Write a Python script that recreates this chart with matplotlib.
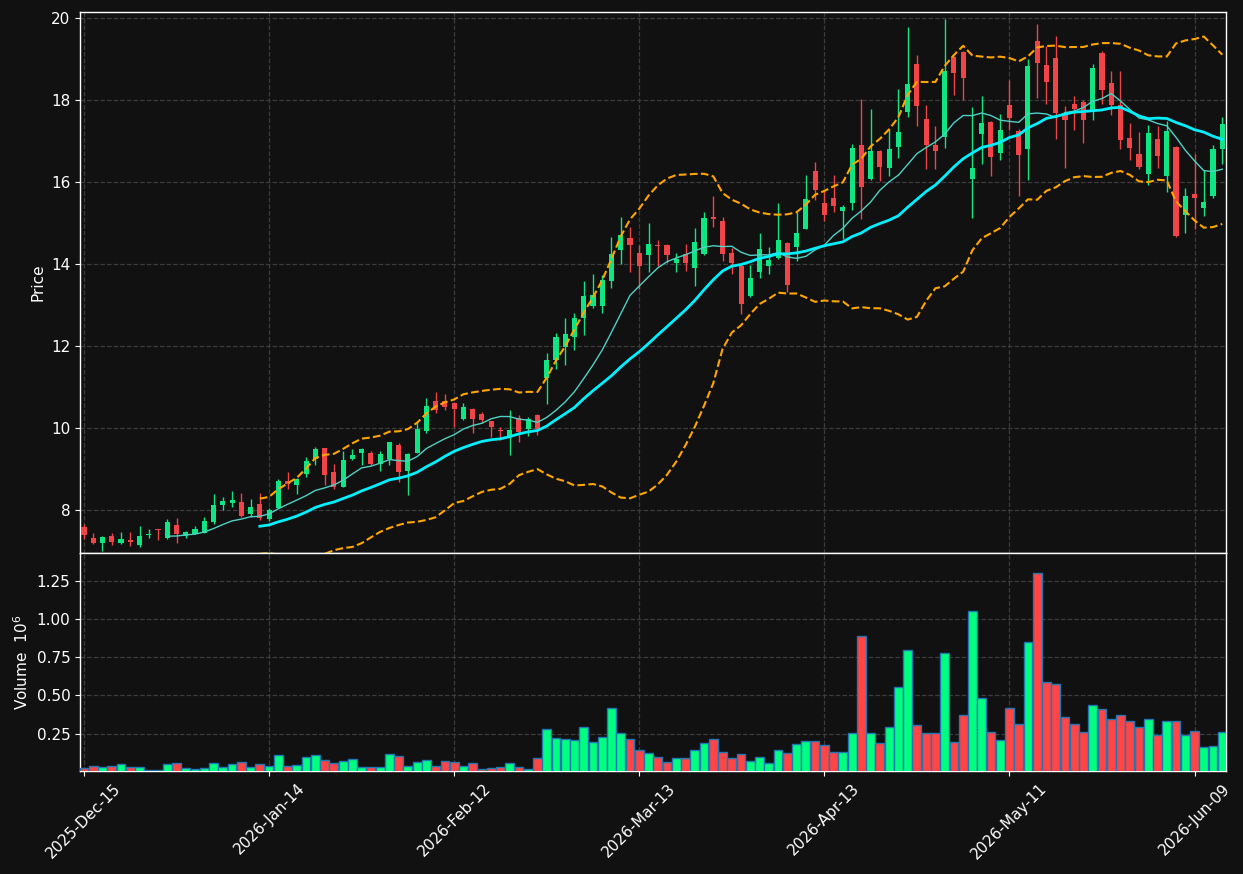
import numpy as np
import pandas as pd
import matplotlib
matplotlib.use('Agg')
import matplotlib.pyplot as plt

opens = [7.58, 7.32, 7.20, 7.37, 7.19, 7.27, 7.14, 7.38, 7.52, 7.31,
         7.63, 7.37, 7.42, 7.45, 7.71, 8.12, 8.18, 8.20, 7.89, 8.15,
         7.79, 8.06, 8.71, 8.61, 8.88, 9.25, 9.51, 8.93, 8.57, 9.24,
         9.40, 9.39, 9.12, 9.24, 9.59, 8.96, 9.40, 9.93, 10.65, 10.65,
         10.61, 10.22, 10.46, 10.34, 10.17, 9.94, 9.79, 10.25, 9.97, 10.31,
         11.23, 11.66, 11.98, 12.23, 12.69, 12.98, 12.98, 13.59, 14.34, 14.63,
         14.27, 14.22, 14.46, 14.46, 14.03, 14.24, 13.91, 14.25, 15.15, 15.05,
         14.27, 13.96, 13.23, 13.81, 13.96, 14.15, 14.51, 14.42, 14.86, 16.27,
         15.48, 15.61, 15.30, 15.50, 16.90, 16.08, 16.76, 16.34, 16.85, 17.71,
         18.89, 17.54, 16.90, 17.10, 19.05, 19.17, 16.08, 17.18, 17.46, 16.71,
         17.87, 17.24, 16.81, 19.44, 18.86, 19.02, 17.64, 17.91, 17.95, 17.75,
         19.15, 18.41, 17.87, 17.07, 16.68, 16.20, 17.05, 16.16, 16.85, 15.19,
         15.72, 15.37, 15.65, 16.81]
highs = [7.66, 7.44, 7.37, 7.43, 7.47, 7.47, 7.61, 7.54, 7.54, 7.77,
         7.80, 7.49, 7.60, 7.82, 8.38, 8.31, 8.46, 8.41, 8.26, 8.41,
         8.05, 8.76, 8.93, 8.77, 9.30, 9.53, 9.52, 9.11, 9.44, 9.48,
         9.50, 9.45, 9.43, 9.67, 9.64, 9.38, 10.15, 10.72, 10.87, 10.82,
         10.63, 10.61, 10.48, 10.38, 10.18, 10.02, 10.44, 10.32, 10.26, 10.35,
         11.82, 12.31, 12.68, 12.80, 13.59, 13.75, 13.73, 14.65, 15.14, 14.90,
         14.46, 14.99, 14.58, 14.50, 14.26, 14.49, 14.87, 15.26, 15.67, 15.15,
         14.39, 14.00, 13.98, 14.75, 14.41, 15.48, 14.54, 15.28, 16.17, 16.50,
         15.80, 16.17, 15.44, 16.93, 18.02, 17.79, 16.78, 17.30, 18.26, 19.78,
         19.11, 17.87, 17.36, 19.98, 19.07, 19.20, 17.83, 18.09, 17.50, 17.67,
         18.48, 17.30, 19.01, 19.85, 19.33, 19.56, 17.85, 18.09, 18.01, 18.87,
         19.19, 18.72, 18.70, 17.44, 17.22, 17.40, 17.38, 17.50, 16.87, 15.85,
         16.69, 16.30, 16.91, 17.58]
lows = [7.28, 7.17, 7.00, 7.15, 7.18, 7.12, 7.10, 7.32, 7.26, 7.30,
        7.19, 7.32, 7.41, 7.44, 7.66, 8.00, 8.08, 7.82, 7.84, 7.76,
        7.74, 8.04, 8.52, 8.39, 8.80, 9.09, 8.60, 8.50, 8.55, 9.22,
        9.09, 9.10, 8.96, 9.10, 8.69, 8.36, 9.38, 9.87, 10.37, 10.44,
        10.03, 10.20, 9.87, 10.12, 9.79, 9.71, 9.34, 9.65, 9.80, 9.82,
        10.59, 11.43, 11.54, 11.90, 12.28, 12.92, 12.80, 13.41, 13.99, 13.80,
        13.39, 13.81, 13.95, 14.02, 13.81, 13.84, 13.47, 14.23, 14.91, 14.07,
        13.75, 12.77, 13.20, 13.65, 13.75, 14.13, 13.33, 14.07, 14.85, 15.56,
        15.04, 15.26, 14.61, 15.32, 15.10, 16.06, 16.02, 16.14, 16.59, 17.59,
        17.38, 16.31, 16.31, 16.84, 18.13, 18.01, 15.13, 16.45, 16.16, 16.53,
        17.26, 15.65, 16.04, 18.05, 17.91, 17.06, 16.35, 17.26, 16.96, 17.52,
        17.90, 17.63, 16.81, 16.53, 16.33, 15.94, 16.35, 15.77, 14.66, 14.76,
        14.86, 15.17, 15.62, 16.43]
closes = [7.38, 7.19, 7.35, 7.21, 7.28, 7.23, 7.36, 7.41, 7.50, 7.70,
          7.41, 7.46, 7.54, 7.73, 8.12, 8.22, 8.24, 7.85, 8.08, 7.80,
          8.00, 8.71, 8.63, 8.76, 9.20, 9.49, 8.86, 8.57, 9.22, 9.34,
          9.49, 9.12, 9.36, 9.65, 8.93, 9.36, 9.98, 10.54, 10.44, 10.52,
          10.46, 10.51, 10.22, 10.20, 10.02, 9.92, 9.95, 9.91, 10.21, 9.98,
          11.66, 12.23, 12.29, 12.69, 13.22, 13.24, 13.61, 14.24, 14.71, 14.46,
          13.95, 14.49, 14.44, 14.22, 14.12, 14.03, 14.54, 15.12, 15.10, 14.25,
          14.03, 13.03, 13.66, 14.37, 14.10, 14.59, 13.50, 14.76, 15.59, 15.81,
          15.20, 15.42, 15.38, 16.83, 15.89, 16.76, 16.37, 16.81, 17.22, 18.40,
          17.86, 16.91, 16.76, 18.72, 18.66, 18.54, 16.34, 17.44, 16.61, 17.27,
          17.57, 16.67, 18.83, 18.91, 18.44, 17.68, 17.52, 17.79, 17.52, 18.78,
          18.24, 17.89, 17.03, 16.84, 16.37, 17.20, 16.64, 17.24, 14.68, 15.66,
          15.62, 15.51, 16.81, 17.41]
volumes = [0.024, 0.037, 0.031, 0.037, 0.050, 0.031, 0.031, 0.013, 0.013, 0.050,
           0.059, 0.024, 0.018, 0.024, 0.059, 0.031, 0.050, 0.064, 0.031, 0.050,
           0.037, 0.110, 0.037, 0.043, 0.097, 0.110, 0.077, 0.059, 0.070, 0.083,
           0.031, 0.031, 0.031, 0.116, 0.103, 0.037, 0.064, 0.077, 0.037, 0.070,
           0.064, 0.037, 0.057, 0.018, 0.024, 0.031, 0.057, 0.031, 0.018, 0.090,
           0.281, 0.222, 0.215, 0.209, 0.294, 0.195, 0.228, 0.419, 0.255, 0.215,
           0.143, 0.123, 0.097, 0.064, 0.090, 0.090, 0.143, 0.189, 0.215, 0.130,
           0.090, 0.116, 0.070, 0.097, 0.057, 0.143, 0.123, 0.182, 0.202, 0.202,
           0.176, 0.130, 0.130, 0.255, 0.893, 0.255, 0.189, 0.294, 0.557, 0.800,
           0.307, 0.255, 0.255, 0.781, 0.195, 0.375, 1.057, 0.485, 0.261, 0.208,
           0.419, 0.314, 0.853, 1.300, 0.590, 0.577, 0.360, 0.314, 0.261, 0.439,
           0.412, 0.347, 0.373, 0.333, 0.294, 0.347, 0.241, 0.333, 0.333, 0.241,
           0.268, 0.162, 0.169, 0.261]
tick_labels = ['2025-Dec-15', '2026-Jan-14', '2026-Feb-12', '2026-Mar-13',
               '2026-Apr-13', '2026-May-11', '2026-Jun-09']
tick_step = 20

o = np.array(opens); h = np.array(highs); l = np.array(lows); c = np.array(closes)
v = np.array(volumes)
n = len(c)
x = np.arange(n)
up = c >= o

BG = '#111111'
UP_C = '#10e584'
DN_C = '#f04448'
UP_V = '#00ff80'
DN_V = '#ff4545'

fig = plt.figure(figsize=(12.43, 8.74), dpi=100, facecolor=BG)
ax = fig.add_axes([0.06436, 0.36728, 0.92196, 0.61899])
axv = fig.add_axes([0.06436, 0.11785, 0.92196, 0.24943], sharex=ax)

for a in (ax, axv):
    a.set_facecolor(BG)
    for s in a.spines.values():
        s.set_color('white')
        s.set_linewidth(1.0)
    a.grid(True, color='#3c3c3c', linestyle='--', linewidth=0.9)
    a.set_axisbelow(True)
    a.tick_params(colors='white', labelsize=11)

# candles
cols = np.where(up, UP_C, DN_C)
ax.vlines(x, l, h, colors=cols, linewidth=1.0, zorder=2)
body_bottom = np.minimum(o, c)
body_h = np.maximum(np.abs(c - o), 0.025)
ax.bar(x, body_h, bottom=body_bottom, width=0.55, color=cols, linewidth=0, zorder=3)

# moving averages and bands
cs = pd.Series(c)
ma10 = cs.rolling(10).mean()
ma20 = cs.rolling(20).mean()
sd20 = cs.rolling(20).std(ddof=0)
ax.plot(x, ma10, color='#4fd1c5', linewidth=1.0, zorder=4)
ax.plot(x, ma20, color='#00f0ff', linewidth=2.0, zorder=4)
ax.plot(x, ma20 + 2 * sd20, color='#ffa500', linestyle='--', linewidth=1.5, zorder=4)
ax.plot(x, ma20 - 2 * sd20, color='#ffa500', linestyle='--', linewidth=1.5, zorder=4)

ax.set_ylim(6.95, 20.15)
ax.set_yticks([8, 10, 12, 14, 16, 18, 20])
ax.set_ylabel('Price', color='white', fontsize=11)
ax.tick_params(axis='x', bottom=False, labelbottom=False)

# volume
vcols = np.where(up, UP_V, DN_V)
axv.bar(x, v, width=0.95, color=vcols, edgecolor='#1f77b4', linewidth=1.0, zorder=3)
axv.set_ylim(0.005, 1.434)
axv.set_yticks([0.25, 0.5, 0.75, 1.0, 1.25])
axv.set_yticklabels(['0.25', '0.50', '0.75', '1.00', '1.25'])
axv.set_ylabel('Volume  $10^6$', color='white', fontsize=11)

ticks = np.arange(0, tick_step * len(tick_labels), tick_step)
axv.set_xticks(ticks)
axv.set_xticklabels(tick_labels, rotation=45, ha='center')
ax.set_xlim(-0.43, 123.4)

fig.savefig('out.png', dpi=100, facecolor=BG)
